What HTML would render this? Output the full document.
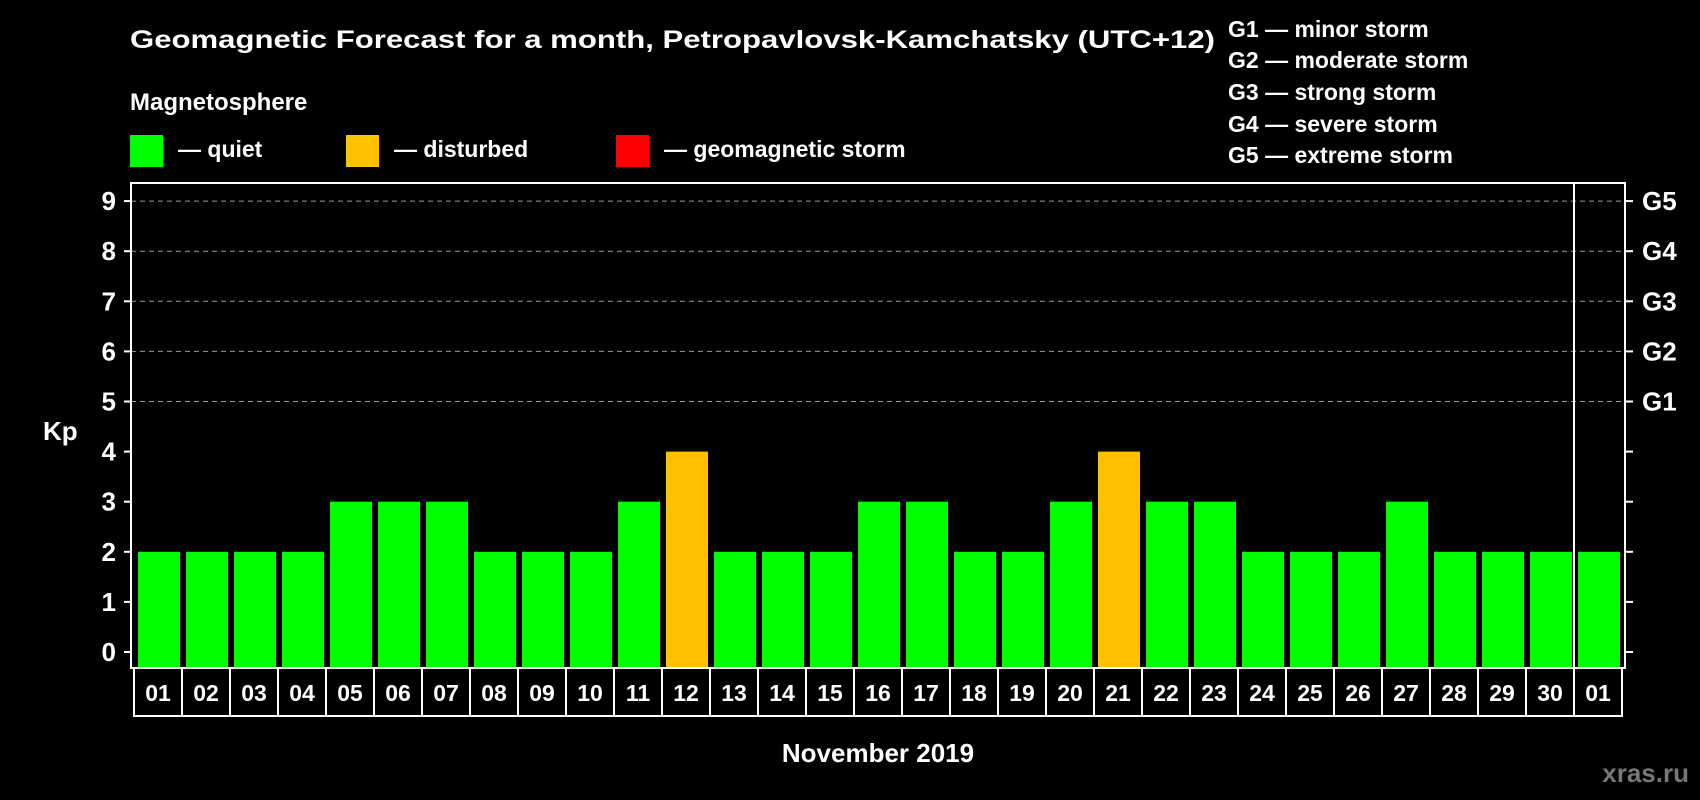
<!DOCTYPE html>
<html><head><meta charset="utf-8"><style>
html,body{margin:0;padding:0;background:#000;width:1700px;height:800px;overflow:hidden}
svg text{font-family:"Liberation Sans",Arial,sans-serif;font-weight:bold;fill:#fff}
</style></head><body>
<svg id="chart" width="1700" height="800">
<text x="130" y="48" font-size="25" textLength="1085" lengthAdjust="spacingAndGlyphs">Geomagnetic Forecast for a month, Petropavlovsk-Kamchatsky (UTC+12)</text>
<text x="130" y="110" font-size="24">Magnetosphere</text>
<g><rect x="130" y="135" width="33" height="32" fill="#00ff00"/><text x="178" y="157" font-size="23">— quiet</text></g>
<g><rect x="346" y="135" width="33" height="32" fill="#ffc000"/><text x="394" y="157" font-size="23">— disturbed</text></g>
<g><rect x="616" y="135" width="33" height="32" fill="#ff0000"/><text x="664" y="157" font-size="23">— geomagnetic storm</text></g>
<g font-size="23">
<text x="1228" y="37">G1 — minor storm</text>
<text x="1228" y="68">G2 — moderate storm</text>
<text x="1228" y="100">G3 — strong storm</text>
<text x="1228" y="132">G4 — severe storm</text>
<text x="1228" y="163">G5 — extreme storm</text>
</g>
<text x="43" y="440" font-size="26">Kp</text>
<text x="878" y="762" font-size="26" text-anchor="middle">November 2019</text>
<text x="1689" y="782" font-size="26" text-anchor="end" style="fill:#777">xras.ru</text>
<g id="grid"></g><g id="bars"></g><g id="axes"></g>
</svg>
<script>
const days=["01","02","03","04","05","06","07","08","09","10","11","12","13","14","15","16","17","18","19","20","21","22","23","24","25","26","27","28","29","30","01"];
const kp=[2,2,2,2,3,3,3,2,2,2,3,4,2,2,2,3,3,2,2,3,4,3,3,2,2,2,3,2,2,2,2];
const yTicks=[0,1,2,3,4,5,6,7,8,9];
const gLabels=["G1","G2","G3","G4","G5"];
const gLevels=[5,6,7,8,9];
const NS="http://www.w3.org/2000/svg";
const L=131,R=1625,T=183,B=668,X0=134,P=48;
const y=v=>652-v*50.1;
const x=i=>X0+i*P;
function mk(t,a,p){const e=document.createElementNS(NS,t);for(const k in a)e.setAttribute(k,a[k]);p.appendChild(e);return e;}
const grid=document.getElementById('grid'),bars=document.getElementById('bars'),axes=document.getElementById('axes');
gLevels.forEach(v=>{const l=mk('line',{x1:L,x2:R,y1:y(v),y2:y(v),stroke:'#999','stroke-dasharray':'5,4','stroke-width':1},grid);

});
kp.forEach((v,i)=>{const c=v>=5?'#ff0000':(v>=4?'#ffc000':'#00ff00');
const r=mk('rect',{x:x(i)+4,y:y(v),width:42,height:B-y(v),fill:c},bars);


const b=mk('rect',{x:x(i),y:B,width:P,height:48,fill:'none',stroke:'#fff','stroke-width':2},axes);


const t=mk('text',{x:x(i)+P/2,y:B+33,'text-anchor':'middle','font-size':23},axes);t.textContent=days[i];

});
const fr=mk('rect',{x:L,y:T,width:R-L,height:B-T,fill:'none',stroke:'#fff','stroke-width':2},axes);


const dv=mk('line',{x1:x(30),x2:x(30),y1:T,y2:B,stroke:'#fff','stroke-width':2},axes);


yTicks.forEach(v=>{mk('line',{x1:124,x2:L,y1:y(v),y2:y(v),stroke:'#fff','stroke-width':2},axes);
mk('line',{x1:R,x2:1633,y1:y(v),y2:y(v),stroke:'#fff','stroke-width':2},axes);
const t=mk('text',{x:116,y:y(v)+9,'text-anchor':'end','font-size':26},axes);t.textContent=v;

});
gLevels.forEach((v,i)=>{const t=mk('text',{x:1642,y:y(v)+9,'font-size':26},axes);t.textContent=gLabels[i];

});
</script>
</body></html>
